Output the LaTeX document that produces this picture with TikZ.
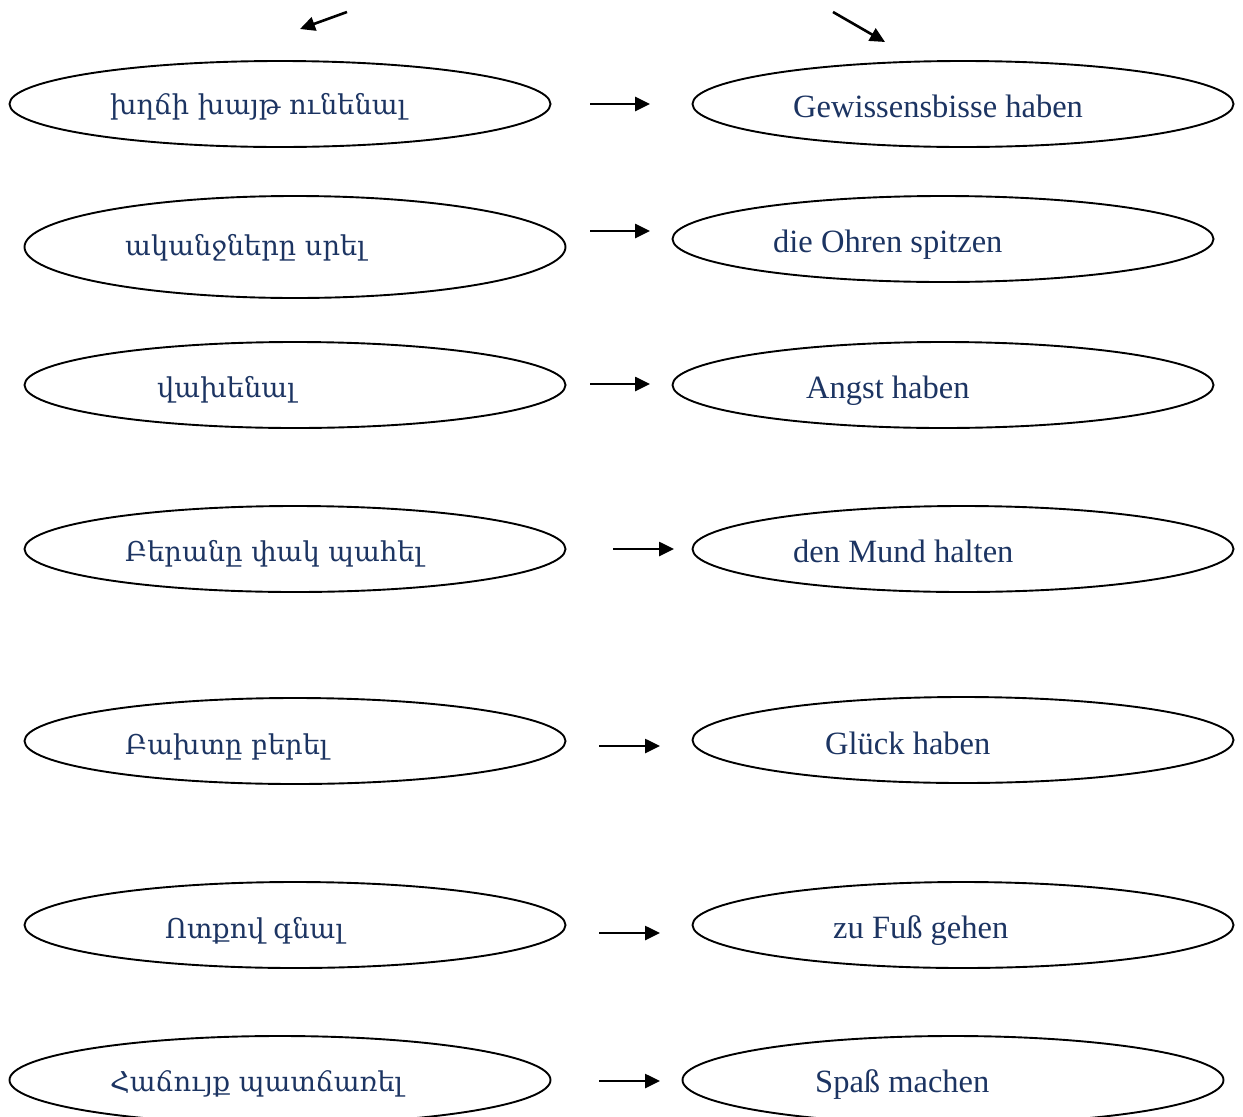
\documentclass[tikz,border=0pt]{standalone}
\usepackage{fontspec}
\setmainfont{Liberation Serif}
\newfontfamily\armfont{DejaVu Serif}
\usetikzlibrary{shapes.geometric,arrows.meta}
\definecolor{navy}{RGB}{28,52,98}
\begin{document}
\begin{tikzpicture}[x=1pt,y=-1pt,
  oval/.style={ellipse,draw,line width=1.9pt,minimum width=541pt,minimum height=86pt,inner sep=0pt},
  lab/.style={text=navy,font=\fontsize{32.5}{38}\selectfont,anchor=base west,inner sep=0pt},
  arm/.style={text=navy,font=\armfont\fontsize{27.3}{33}\selectfont,anchor=base west,inner sep=0pt},
  conn/.style={line width=2.6pt,-{Triangle[length=15pt,width=14pt]}}]
\useasboundingbox (0,0) rectangle (1243,1117);
% left ovals
\node[oval] (l1) at (280,104) {};
\node[oval,minimum height=102pt] (l2) at (295,247) {};
\node[oval] (l3) at (295,385) {};
\node[oval] (l4) at (295,549) {};
\node[oval] (l5) at (295,741) {};
\node[oval] (l6) at (295,925) {};
\node[oval,minimum height=88pt] (l7) at (280,1080) {};
% right ovals
\node[oval] (r1) at (963,104) {};
\node[oval] (r2) at (943,239) {};
\node[oval] (r3) at (943,385) {};
\node[oval] (r4) at (963,549) {};
\node[oval] (r5) at (963,740) {};
\node[oval] (r6) at (963,925) {};
\node[oval,minimum height=88pt] (r7) at (953,1080) {};
% left labels
\node[arm] (tl1) at (110,114) {խղճի խայթ ունենալ};
\node[arm] (tl2) at (125,255) {ականջները սրել};
\node[arm] (tl3) at (157,397) {վախենալ};
\node[arm] (tl4) at (125,561) {Բերանը փակ պահել};
\node[arm] (tl5) at (125,754) {Բախտը բերել};
\node[arm] (tl6) at (165,938) {Ոտքով գնալ};
\node[arm] (tl7) at (110,1091) {Հաճույք պատճառել};
% right labels
\node[lab] (tr1) at (793,117) {Gewissensbisse haben};
\node[lab] (tr2) at (773,252) {die Ohren spitzen};
\node[lab] (tr3) at (806,398) {Angst haben};
\node[lab] (tr4) at (793,562) {den Mund halten};
\node[lab] (tr5) at (825,754) {Glück haben};
\node[lab] (tr6) at (833,938) {zu Fuß gehen};
\node[lab] (tr7) at (815,1092) {Spaß machen};
% arrow end points
\coordinate (a1s) at (590,104); \coordinate (a1e) at (650,104);
\coordinate (a2s) at (590,231); \coordinate (a2e) at (650,231);
\coordinate (a3s) at (590,384); \coordinate (a3e) at (650,384);
\coordinate (a4s) at (613,549); \coordinate (a4e) at (674,549);
\coordinate (a5s) at (599,746); \coordinate (a5e) at (660,746);
\coordinate (a6s) at (599,933); \coordinate (a6e) at (660,933);
\coordinate (a7s) at (599,1081); \coordinate (a7e) at (660,1081);
\coordinate (t1s) at (347,12); \coordinate (t1e) at (300,29);
\coordinate (t2s) at (833,12); \coordinate (t2e) at (885,42);
\foreach \i in {1,...,7} {\draw[conn] (a\i s) -- (a\i e);}
\draw[conn] (t1s) -- (t1e);
\draw[conn] (t2s) -- (t2e);
\end{tikzpicture}
\end{document}
